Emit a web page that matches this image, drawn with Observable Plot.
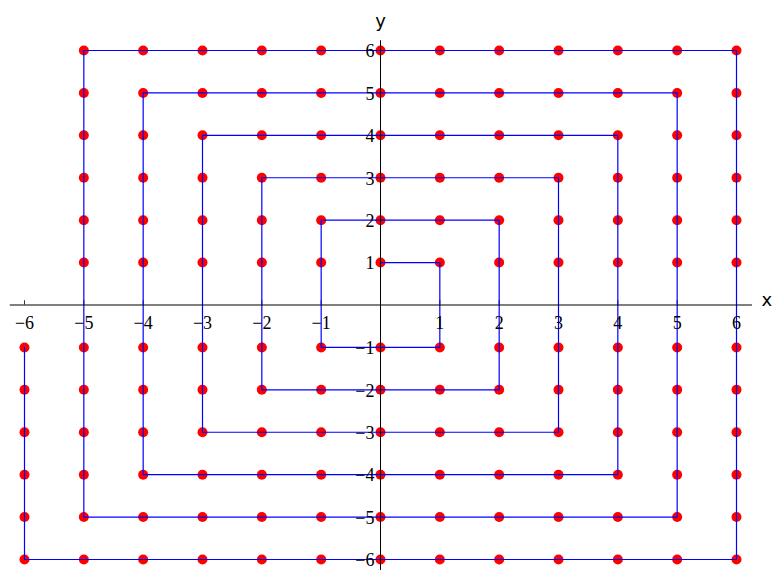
<!DOCTYPE html>
<html><head><meta charset="utf-8">
<script src="https://cdn.jsdelivr.net/npm/d3@7"></script>
<script src="https://cdn.jsdelivr.net/npm/@observablehq/plot@0.6"></script>
<style>html,body{margin:0;padding:0;background:#fff}</style>
</head><body><div id="chart"></div>
<script>
// Spiral path through the integer lattice (y = 0 skipped), in drawing order
const pathX = [
  0, 1, 1, 0, -1, -1, -1,
  0, 1, 2,
  2, 2, 2,
  1, 0, -1, -2,
  -2, -2, -2, -2,
  -1, 0, 1, 2, 3,
  3, 3, 3, 3, 3,
  2, 1, 0, -1, -2, -3,
  -3, -3, -3, -3, -3, -3,
  -2, -1, 0, 1, 2, 3, 4,
  4, 4, 4, 4, 4, 4, 4,
  3, 2, 1, 0, -1, -2, -3, -4,
  -4, -4, -4, -4, -4, -4, -4, -4,
  -3, -2, -1, 0, 1, 2, 3, 4, 5,
  5, 5, 5, 5, 5, 5, 5, 5, 5,
  4, 3, 2, 1, 0, -1, -2, -3, -4, -5,
  -5, -5, -5, -5, -5, -5, -5, -5, -5, -5,
  -4, -3, -2, -1, 0, 1, 2, 3, 4, 5, 6,
  6, 6, 6, 6, 6, 6, 6, 6, 6, 6, 6,
  5, 4, 3, 2, 1, 0, -1, -2, -3, -4, -5, -6,
  -6, -6, -6, -6, -6
];
const pathY = [
  1, 1, -1, -1, -1, 1, 2,
  2, 2, 2,
  1, -1, -2,
  -2, -2, -2, -2,
  -1, 1, 2, 3,
  3, 3, 3, 3, 3,
  2, 1, -1, -2, -3,
  -3, -3, -3, -3, -3, -3,
  -2, -1, 1, 2, 3, 4,
  4, 4, 4, 4, 4, 4, 4,
  3, 2, 1, -1, -2, -3, -4,
  -4, -4, -4, -4, -4, -4, -4, -4,
  -3, -2, -1, 1, 2, 3, 4, 5,
  5, 5, 5, 5, 5, 5, 5, 5, 5,
  4, 3, 2, 1, -1, -2, -3, -4, -5,
  -5, -5, -5, -5, -5, -5, -5, -5, -5, -5,
  -4, -3, -2, -1, 1, 2, 3, 4, 5, 6,
  6, 6, 6, 6, 6, 6, 6, 6, 6, 6, 6,
  5, 4, 3, 2, 1, -1, -2, -3, -4, -5, -6,
  -6, -6, -6, -6, -6, -6, -6, -6, -6, -6, -6, -6,
  -5, -4, -3, -2, -1
];
const xTicks = [-6, -5, -4, -3, -2, -1, 1, 2, 3, 4, 5, 6];
const xTickLabels = ["−6", "−5", "−4", "−3", "−2", "−1", "1", "2", "3", "4", "5", "6"];
const yTicks = [-6, -5, -4, -3, -2, -1, 1, 2, 3, 4, 5, 6];
const yTickLabels = ["−6", "−5", "−4", "−3", "−2", "−1", "1", "2", "3", "4", "5", "6"];
const xAxisLabel = "x";
const yAxisLabel = "y";

const pts = pathX.map((x, i) => ({x, y: pathY[i]}));
const xt = xTicks.map((v, i) => ({v, label: xTickLabels[i]}));
const yt = yTicks.map((v, i) => ({v, label: yTickLabels[i]}));

const X_MIN = -6.24, X_MAX = 6.27, Y_MIN = -6.26, Y_MAX = 6.23;
const serif = "'Liberation Serif', 'DejaVu Serif', serif";
const sans = "'DejaVu Sans', sans-serif";

const chart = Plot.plot({
  width: 781,
  height: 579,
  margin: 0,
  style: {background: "white"},
  x: {domain: [-6, 6], range: [24, 736], axis: null},
  y: {domain: [-6, 6], range: [559, 50], axis: null},
  marks: [
    // small tick marks on the axes
    Plot.ruleX(xt, {x: "v", y1: 0, y2: 0.1, stroke: "black", strokeWidth: 0.8}),
    Plot.ruleY(yt, {y: "v", x1: 0, x2: 0.07, stroke: "black", strokeWidth: 0.8}),
    Plot.dot(pts, {x: "x", y: "y", r: 5, fill: "#ff0000", stroke: "none"}),
    Plot.line(pts, {x: "x", y: "y", stroke: "#0000ff", strokeWidth: 1.2, curve: "linear"}),
    // middle axis lines
    Plot.ruleY([0], {x1: X_MIN, x2: X_MAX, stroke: "black", strokeWidth: 1}),
    Plot.ruleX([0], {y1: Y_MIN, y2: Y_MAX, stroke: "black", strokeWidth: 1}),
    // tick labels
    Plot.text(xt, {x: "v", y: 0, text: "label", dy: 18, fontFamily: serif, fontSize: 18, fill: "black", textAnchor: "middle"}),
    Plot.text(yt, {x: 0, y: "v", text: "label", dx: -6, dy: 1, fontFamily: serif, fontSize: 18, fill: "black", textAnchor: "end"}),
    // axis labels
    Plot.text([xAxisLabel], {x: X_MAX, y: 0, text: d => d, dx: 9, dy: -5, textAnchor: "start", fontFamily: sans, fontSize: 18, fill: "black"}),
    Plot.text([yAxisLabel], {x: 0, y: Y_MAX, text: d => d, dy: -20, textAnchor: "middle", fontFamily: sans, fontSize: 18, fill: "black"})
  ]
});
document.getElementById("chart").appendChild(chart);
</script>
</body></html>
